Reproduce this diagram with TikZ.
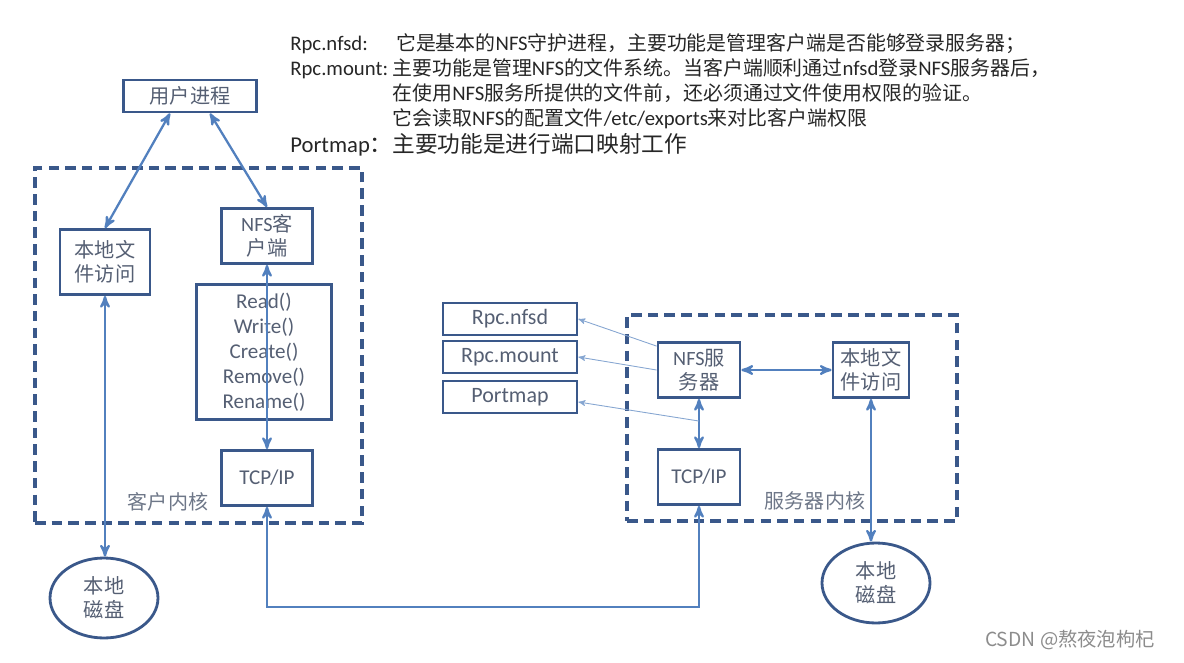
\documentclass[tikz,border=0pt]{standalone}
\usepackage{fontspec}
\setmainfont{Carlito}
\newfontfamily\cjk{Noto Sans CJK SC}
\newfontfamily\cjknote[Scale=0.96]{Noto Sans CJK SC}
\usepackage{tikz}
\usetikzlibrary{arrows, shapes.geometric}
\usetikzlibrary{positioning}
\definecolor{boxblue}{RGB}{58,88,138}
\definecolor{lineblue}{RGB}{82,128,190}
\definecolor{boxtext}{RGB}{85,95,115}
\tikzset{
	block/.style={
			rectangle, draw=boxblue, line width=1.6pt, text=boxtext,
			font=\fontsize{11.5pt}{13.7pt}\selectfont, align=center, inner sep=1pt},
	disk/.style={
			ellipse, draw=boxblue, line width=1.6pt, text=boxtext, inner sep=0pt,
			font=\fontsize{11.5pt}{13.7pt}\selectfont\cjk, align=center,
			minimum width=2.16cm, minimum height=1.6cm},
	kernel/.style={
			rectangle, draw=boxblue, line width=2pt, dash pattern=on 6pt off 3.5pt},
	link/.style={<->, draw=lineblue, line width=1.3pt},
	hint/.style={->, draw=lineblue!70, line width=0.5pt},
	caption/.style={text=boxtext!85, font=\fontsize{11.4pt}{13.7pt}\selectfont\cjk},
		}

\begin{document}
\begin{tikzpicture} [x=0.02cm, y=-0.02cm, >= stealth']
	\useasboundingbox (0,0) rectangle (1184,663);

	% notes
	\node[anchor=north west, inner sep=0pt, text=black!85,
		font=\fontsize{11.8pt}{14.2pt}\selectfont] (notes) at (290,33)
		{
			\begin{tabular}{@{}l@{}l@{}}
				Rpc.nfsd: & \hspace{2pt}{\cjknote 它是基本的}NFS{\cjknote 守护进程，主要功能是管理客户端是否能够登录服务器；} \\
				Rpc.mount: & {\cjknote 主要功能是管理}NFS{\cjknote 的文件系统。当客户端顺利通过}nfsd{\cjknote 登录}NFS{\cjknote 服务器后，} \\
				& {\cjknote 在使用}NFS{\cjknote 服务所提供的文件前，还必须通过文件使用权限的验证。} \\
				& {\cjknote 它会读取}NFS{\cjknote 的配置文件}/etc/exports{\cjknote 来对比客户端权限} \\
				\fontsize{12.9pt}{14.2pt}\selectfont Portmap{\cjk ：} & \fontsize{12.9pt}{14.2pt}\selectfont\cjk 主要功能是进行端口映射工作
			\end{tabular}
		};

	% client side
	\node[kernel, minimum width=6.54cm, minimum height=7.1cm] (clkernel) at (198.5,345.5) {};
	\node[caption] (clcaption) at (168,502) {客户内核};
	\node[block, minimum width=2.66cm, minimum height=0.64cm] (user) at (190,96) {\cjk 用户进程};
	\node[block, minimum width=1.8cm, minimum height=1.3cm] (clfile) at (105,262) {\cjk 本地文\\\cjk 件访问};
	\node[block, minimum width=1.82cm, minimum height=1.1cm] (nfsclient) at (267,236) {NFS{\cjk 客}\\\cjk 户端};
	\node[block, minimum width=2.7cm, minimum height=2.7cm,
		font=\fontsize{12pt}{14.2pt}\selectfont] (ops) at (264,352)
		{Read()\\Write()\\Create()\\Remove()\\Rename()};
	\node[block, minimum width=1.82cm, minimum height=1.1cm, font=\fontsize{12pt}{14pt}\selectfont] (cltcp) at (267,478) {TCP/IP};
	\node[disk] (cldisk) at (104,598) {本地\\磁盘};

	% server side
	\node[kernel, minimum width=6.6cm, minimum height=4.12cm] (svkernel) at (792,418) {};
	\node[caption] (svcaption) at (815,501) {服务器内核};
	\node[block, minimum width=1.64cm, minimum height=1.1cm] (nfsserver) at (699,370) {NFS{\cjk 服}\\\cjk 务器};
	\node[block, minimum width=1.52cm, minimum height=1.1cm] (svfile) at (871,370) {\cjk 本地文\\\cjk 件访问};
	\node[block, minimum width=1.64cm, minimum height=1.1cm, font=\fontsize{12pt}{14pt}\selectfont] (svtcp) at (699,477) {TCP/IP};
	\node[disk] (svdisk) at (876,583) {本地\\磁盘};
	\node[block, minimum width=2.68cm, minimum height=0.64cm, font=\fontsize{12.5pt}{14pt}\selectfont] (rpcnfsd) at (510,319) {Rpc.nfsd};
	\node[block, minimum width=2.68cm, minimum height=0.64cm, font=\fontsize{12.5pt}{14pt}\selectfont] (rpcmount) at (510,357) {Rpc.mount};
	\node[block, minimum width=2.68cm, minimum height=0.64cm, font=\fontsize{12.5pt}{14pt}\selectfont] (portmap) at (510,397) {Portmap};

	\node[text=black!45, font=\fontsize{11pt}{13pt}\selectfont\cjk] (mark) at (1070,640) {CSDN @熬夜泡枸杞};

	% connectors
	\draw[link] ([xshift=-0.4cm]user.south) -- (clfile.north);
	\draw[link] ([xshift=0.4cm]user.south) -- (nfsclient.north);
	\draw[link] (clfile.south) -- (clfile.south |- cldisk.north);
	\draw[link] (nfsclient.south) -- (cltcp.north);
	\coordinate (bus) at (488,607);
	\draw[link] (cltcp.south) |- (bus) -| (svtcp.south);
	\draw[link] (nfsserver.east) -- (svfile.west);
	\draw[link] (nfsserver.south) -- (svtcp.north);
	\draw[link] (svfile.south) -- (svfile.south |- svdisk.north);
	\path (nfsserver.south) -- (svtcp.north) coordinate[pos=0.45] (pmtap);
	\draw[hint] ([yshift=-0.1cm]nfsserver.north west) -- (rpcnfsd.east);
	\draw[hint] (nfsserver.west) -- (rpcmount.east);
	\draw[hint] (pmtap) -- ([yshift=-0.1cm]portmap.east);
\end{tikzpicture}
\end{document}
